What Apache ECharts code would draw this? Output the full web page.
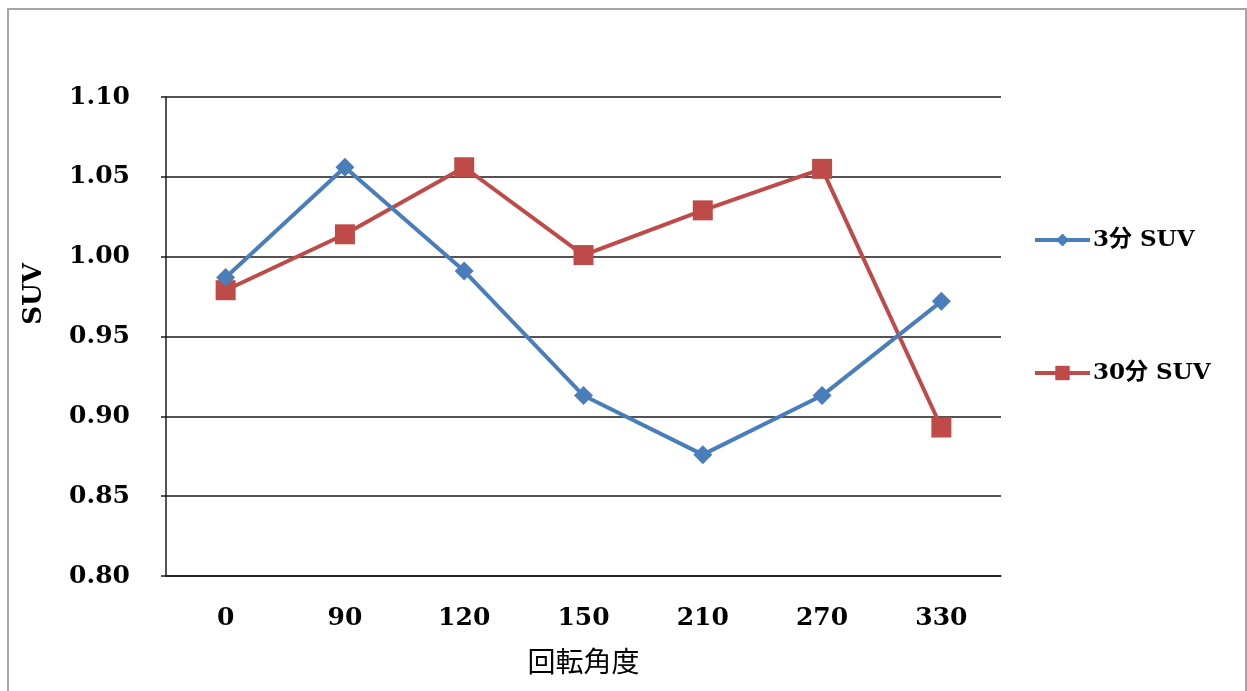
<!DOCTYPE html>
<html>
<head>
<meta charset="utf-8">
<title>SUV</title>
<script src="https://cdn.jsdelivr.net/npm/echarts@6/dist/echarts.min.js"></script>
<style>
  html, body { margin: 0; padding: 0; background: #ffffff; }
  #chart { width: 1247px; height: 691px; }
</style>
</head>
<body>
<div id="chart"></div>
<script>
// Rotation angles (degrees) and SUV readings at 3 and 30 minutes
const angles = ['0', '90', '120', '150', '210', '270', '330'];
const suv3min = [0.987, 1.056, 0.991, 0.913, 0.876, 0.913, 0.972];
const suv30min = [0.979, 1.014, 1.056, 1.001, 1.029, 1.055, 0.893];
const seriesNames = ['3分 SUV', '30分 SUV'];
const yTicks = { min: 0.80, max: 1.10, step: 0.05 };

const serif = '"DejaVu Serif", "Liberation Serif", "Noto Sans CJK JP", serif';
const blue = '#4A7EBB';
const red = '#BE4B48';

const legendText = {
  fontFamily: serif,
  fontWeight: 'bold',
  fontSize: 23,
  color: '#000',
  lineHeight: 24,
  padding: [0, 0, 0, -2]
};

const chart = echarts.init(document.getElementById('chart'), null, { renderer: 'canvas' });

chart.setOption({
  backgroundColor: '#ffffff',
  animation: false,
  graphic: [
    {
      type: 'rect',
      shape: { x: 8, y: 9, width: 1238, height: 700 },
      style: { fill: 'none', stroke: '#a6a6a6', lineWidth: 2 },
      silent: true
    },
    {
      type: 'text',
      x: 34,
      y: 294,
      rotation: Math.PI / 2,
      style: {
        text: 'SUV',
        font: 'bold 26px ' + serif,
        fill: '#000',
        align: 'center',
        verticalAlign: 'middle'
      },
      silent: true
    }
  ],
  grid: { left: 166, right: 246, top: 97, bottom: 115, containLabel: false },
  legend: [
    {
      data: [seriesNames[0]],
      orient: 'vertical',
      left: 1033,
      top: 228,
      padding: 0,
      itemWidth: 55,
      itemHeight: 16,
      itemGap: 0,
      lineStyle: { width: 4 },
      textStyle: legendText
    },
    {
      data: [seriesNames[1]],
      orient: 'vertical',
      left: 1033,
      top: 361,
      padding: 0,
      itemWidth: 55,
      itemHeight: 18,
      itemGap: 0,
      lineStyle: { width: 4 },
      textStyle: legendText
    }
  ],
  xAxis: {
    type: 'category',
    data: angles,
    boundaryGap: true,
    name: '回転角度',
    nameLocation: 'middle',
    nameGap: 71,
    nameTextStyle: { fontFamily: '"Noto Sans CJK JP", sans-serif', fontSize: 28, color: '#000', lineHeight: 28 },
    axisLine: { show: true, lineStyle: { color: '#1a1a1a', width: 1.5 } },
    axisTick: { show: false },
    axisLabel: { margin: 29, fontFamily: serif, fontWeight: 'bold', fontSize: 25, color: '#000', lineHeight: 26 },
    splitLine: { show: false }
  },
  yAxis: {
    type: 'value',
    min: yTicks.min,
    max: yTicks.max,
    interval: yTicks.step,
    axisLine: { show: true, lineStyle: { color: '#1a1a1a', width: 1.5 } },
    axisTick: { show: true, length: 5, lineStyle: { color: '#1a1a1a', width: 1.5 } },
    axisLabel: {
      margin: 36,
      fontFamily: serif,
      fontWeight: 'bold',
      fontSize: 25,
      color: '#000',
      lineHeight: 26,
      formatter: v => v.toFixed(2)
    },
    splitLine: { show: true, lineStyle: { color: '#1a1a1a', width: 1.5 } }
  },
  series: [
    {
      name: seriesNames[0],
      type: 'line',
      data: suv3min,
      symbol: 'diamond',
      symbolSize: [19, 19],
      lineStyle: { color: blue, width: 4 },
      itemStyle: { color: blue },
      z: 3
    },
    {
      name: seriesNames[1],
      type: 'line',
      data: suv30min,
      symbol: 'rect',
      symbolSize: 20,
      lineStyle: { color: red, width: 4 },
      itemStyle: { color: red },
      z: 2
    }
  ]
});
</script>
</body>
</html>
